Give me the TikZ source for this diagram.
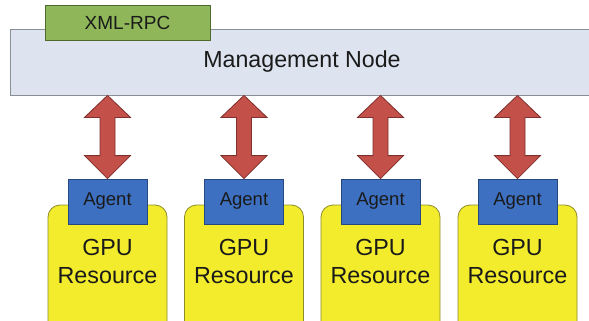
\documentclass[tikz,border=0pt]{standalone}
\usepackage{fontspec}
\setmainfont{Liberation Sans}
\usetikzlibrary{calc}
\definecolor{mgfill}{HTML}{DDE4EF}
\definecolor{mgdraw}{HTML}{8A8F96}
\definecolor{xmlfill}{HTML}{8FB75A}
\definecolor{xmldraw}{HTML}{4E6B2C}
\definecolor{agfill}{HTML}{3D70C0}
\definecolor{agdraw}{HTML}{27487E}
\definecolor{gpufill}{HTML}{F2EC2C}
\definecolor{gpudraw}{HTML}{8E8C2A}
\definecolor{arfill}{HTML}{C4504A}
\definecolor{ardraw}{HTML}{7E302C}
\definecolor{txt}{HTML}{1A1A1A}
\tikzset{
  mgmt/.style={draw=mgdraw, fill=mgfill, line width=0.8pt, minimum width=579pt, minimum height=66pt, inner sep=0pt},
  mgtext/.style={text=txt, inner sep=0pt, font=\fontsize{23.2}{26}\selectfont},
  xml/.style={draw=xmldraw, fill=xmlfill, line width=0.8pt, minimum width=165pt, minimum height=35pt, inner sep=0pt, text=txt, font=\fontsize{19}{22}\selectfont},
  agentbox/.style={draw=agdraw, fill=agfill, line width=0.8pt, minimum width=79pt, minimum height=45pt, inner sep=0pt, text=txt, font=\fontsize{18.5}{21}\selectfont},
  gpubox/.style={draw=gpudraw, fill=gpufill, line width=0.8pt, rounded corners=12pt, minimum width=119pt, minimum height=130pt, inner sep=0pt},
  gputext/.style={align=center, text=txt, font=\fontsize{23.3}{28}\selectfont, inner sep=0pt},
  dblarrow/.style={draw=ardraw, fill=arfill, line width=0.8pt, line join=miter}
}
\begin{document}
\begin{tikzpicture}[x=1pt,y=-1pt]
\useasboundingbox (0,0) rectangle (589,321);
\fill[white] (0,0) rectangle (589,321);
\node[mgmt] (m) at (299.5,62) {};
\node[mgtext] (mt) at (302,62) {Management Node};
\node[xml] (x) at (127.5,22.5) {XML-RPC};
\foreach \i/\gx/\ax in {1/107.5/107.5, 2/244/244, 3/380.5/380.5, 4/517.5/517.5}{
  \node[gpubox] (g\i) at (\gx,270) {};
  \node[gputext] (gt\i) at (\gx,261) {GPU\\Resource};
  \node[agentbox] (a\i) at (\ax,201.5) {Agent};
  \coordinate (t\i) at (a\i.north |- m.south);
  \draw[dblarrow] (t\i) -- ($(t\i)+(23,22)$) -- ($(t\i)+(7.5,22)$) -- ($(a\i.north)+(7.5,-23)$) -- ($(a\i.north)+(23,-23)$) -- (a\i.north) -- ($(a\i.north)+(-23,-23)$) -- ($(a\i.north)+(-7.5,-23)$) -- ($(t\i)+(-7.5,22)$) -- ($(t\i)+(-23,22)$) -- cycle;
}
\end{tikzpicture}
\end{document}
